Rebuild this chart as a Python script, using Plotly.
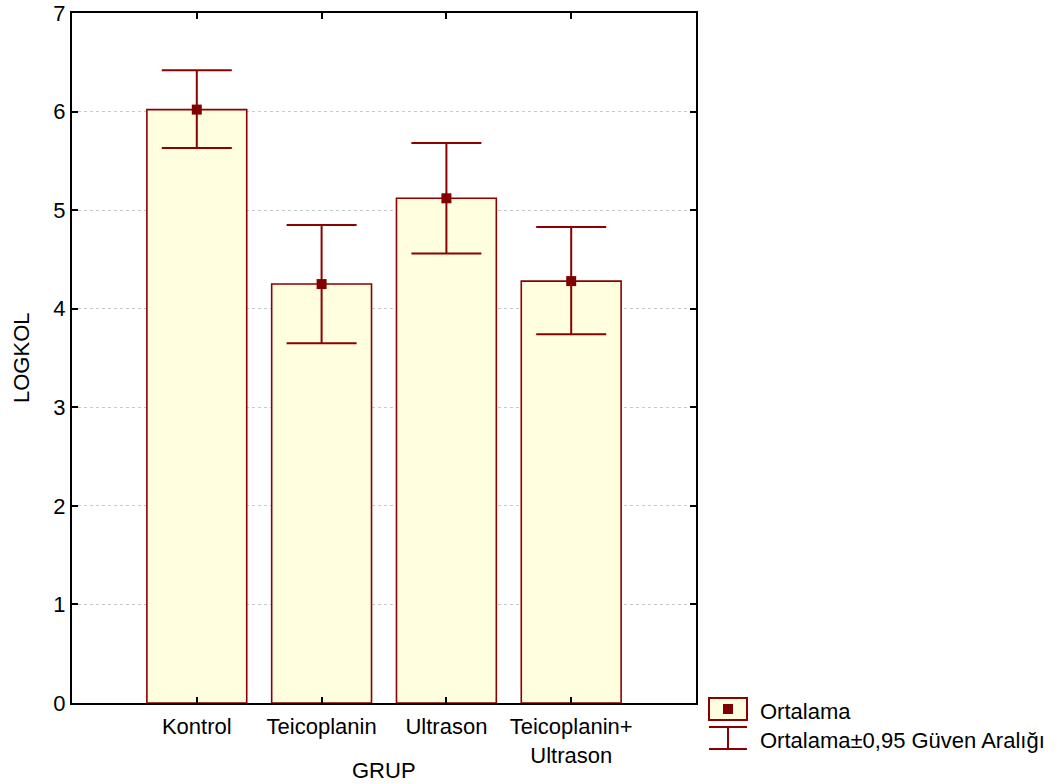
import plotly.graph_objects as go

categories = ["Kontrol", "Teicoplanin", "Ultrason", "Teicoplanin+<br>Ultrason"]
means = [6.02, 4.25, 5.12, 4.28]
ci_upper = [6.42, 4.85, 5.68, 4.83]
ci_lower = [5.63, 3.65, 4.56, 3.74]
y_ticks = [0, 1, 2, 3, 4, 5, 6, 7]

DARK = "#8B0000"
MARK = "#800000"
FILL = "#FFFFE0"
FONT = "Liberation Sans, Arial, sans-serif"

W, H = 1060, 784
# plot area in page pixels: x 72..696, y 13..703
L, R, T, B = 72, W - 696, 13, H - 703
PW, PH = W - L - R, H - T - B

def px(x):
    return (x - L) / PW

def py(y):
    return (H - B - y) / PH

xpos = list(range(len(categories)))
err_plus = [u - m for u, m in zip(ci_upper, means)]
err_minus = [m - l for m, l in zip(means, ci_lower)]

fig = go.Figure()
fig.add_trace(go.Bar(
    x=xpos, y=means, width=0.8,
    marker=dict(color=FILL, line=dict(color=DARK, width=1.6)),
    showlegend=False, hoverinfo="skip",
))
fig.add_trace(go.Scatter(
    x=xpos, y=means, mode="markers",
    marker=dict(symbol="square", size=10, color=MARK),
    error_y=dict(type="data", symmetric=False, array=err_plus, arrayminus=err_minus,
                 width=35, thickness=2, color=DARK),
    showlegend=False,
))

axis_common = dict(
    showline=True, linecolor="black", linewidth=2, mirror="ticks",
    ticks="inside", ticklen=6, tickwidth=2, tickcolor="black",
    tickfont=dict(family=FONT, size=22, color="black"),
    zeroline=False, automargin=False, ticklabeloverflow="allow",
)

fig.update_xaxes(
    range=[-1, 4], tickvals=xpos, ticktext=categories, showgrid=False,
    ticklabelstandoff=3,
    **axis_common,
)
fig.update_yaxes(
    range=[0, 7], tickvals=y_ticks, showgrid=True, gridcolor="#c8c8c8",
    griddash="dot", gridwidth=1,
    **axis_common,
)

shapes = [
    # legend: mean symbol box
    dict(type="rect", xref="paper", yref="paper", x0=px(709), x1=px(747), y0=py(720), y1=py(698),
         fillcolor=FILL, line=dict(color=DARK, width=2)),
    dict(type="rect", xref="paper", yref="paper", x0=px(723), x1=px(733), y0=py(714), y1=py(704),
         fillcolor=MARK, line=dict(width=0)),
    # legend: CI symbol
    dict(type="line", xref="paper", yref="paper", x0=px(709), x1=px(747), y0=py(727), y1=py(727),
         line=dict(color=DARK, width=2)),
    dict(type="line", xref="paper", yref="paper", x0=px(709), x1=px(747), y0=py(749), y1=py(749),
         line=dict(color=DARK, width=2)),
    dict(type="line", xref="paper", yref="paper", x0=px(728), x1=px(728), y0=py(727), y1=py(749),
         line=dict(color=DARK, width=2)),
]

annotations = [
    dict(text="GRUP", xref="paper", yref="paper", x=0.5, y=py(770), xanchor="center", yanchor="middle",
         showarrow=False, font=dict(family=FONT, size=22, color="black")),
    dict(text="LOGKOL", xref="paper", yref="paper", x=px(21), y=0.5, xanchor="center", yanchor="middle",
         textangle=-90, showarrow=False, font=dict(family=FONT, size=22, color="black")),
    dict(text="Ortalama", xref="paper", yref="paper", x=px(758), y=py(711), xanchor="left", yanchor="middle",
         showarrow=False, font=dict(family=FONT, size=22, color="black")),
    dict(text="Ortalama±0,95 Güven Aralığı", xref="paper", yref="paper", x=px(758), y=py(740),
         xanchor="left", yanchor="middle", showarrow=False,
         font=dict(family=FONT, size=22, color="black")),
]

fig.update_layout(
    width=W, height=H,
    margin=dict(l=L, r=R, t=T, b=B, pad=0),
    paper_bgcolor="white", plot_bgcolor="white",
    shapes=shapes, annotations=annotations,
    showlegend=False, bargap=0.2,
    font=dict(family=FONT, size=22, color="black"),
)

fig.write_html(
    "out.html",
    config={"displayModeBar": False},
    post_script="document.body.style.margin='0';document.body.style.overflow='hidden';",
)
